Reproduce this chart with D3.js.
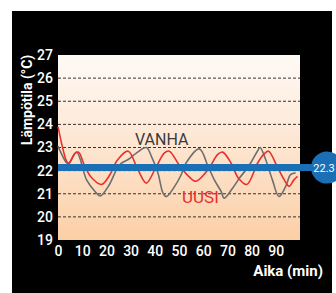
<!DOCTYPE html>
<html>
<head>
<meta charset="utf-8">
<script src="https://cdn.jsdelivr.net/npm/d3@7"></script>
<style>
  html, body { margin: 0; padding: 0; background: #fff; }
  svg { display: block; }
  .cond { font-family: "Roboto", "Liberation Sans", sans-serif; }
</style>
</head>
<body>
<div id="chart"></div>
<script>
(function() {
  // time in minutes, temperature in °C
  const uusiTime  = [0, 2, 3.6, 4.5, 7, 8.5, 11, 14, 18, 21.5, 24.5, 29, 33, 36.5, 40, 44, 46, 50, 54, 57, 62, 66, 68, 71.5, 74.5, 78, 82.5, 85, 87, 90.5, 93.5, 95.5, 97.5, 99];
  const uusiTemp  = [23.9, 22.95, 22.4, 22.33, 22.75, 22.8, 22.2, 21.68, 21.4, 21.83, 22.45, 22.84, 22.04, 21.46, 22.04, 22.77, 22.84, 22.25, 21.75, 21.54, 22.04, 22.7, 22.8, 22.33, 21.68, 21.4, 22.33, 22.7, 22.84, 22.19, 21.6, 21.32, 21.6, 21.75];
  const vanhaTime = [0, 3.6, 4.5, 7.7, 11.8, 15.3, 17.4, 20.8, 24.2, 26, 29, 32.5, 36.5, 38.6, 41.3, 43.4, 44.8, 48.2, 50.8, 52.9, 58.4, 62, 64.6, 67.4, 68.7, 72.2, 75, 77.7, 79.6, 82.4, 83.5, 85.8, 88.6, 91.3, 94.1, 96.1, 98.2];
  const vanhaTemp = [23.06, 22.33, 22.3, 22.8, 21.6, 21.1, 20.9, 21.32, 22.04, 22.3, 22.48, 22.77, 23.0, 22.62, 21.9, 21.03, 20.88, 21.32, 21.8, 22.33, 22.94, 22.19, 21.6, 21.1, 20.81, 21.25, 21.68, 22.04, 22.33, 22.84, 23.0, 22.48, 21.6, 20.88, 21.32, 21.83, 21.9];
  const yTicks = [19, 20, 21, 22, 23, 24, 25, 26, 27];
  const xTicks = [0, 10, 20, 30, 40, 50, 60, 70, 80, 90];
  const gridValues = [20, 21, 22, 23, 24, 25, 26];
  const setpointLevel = 22.13;
  const setpointLabel = "22.3";

  const W = 336, H = 293;
  const plot = { left: 58, right: 300, top: 55, bottom: 240 };

  const svg = d3.select("#chart").append("svg")
    .attr("width", W)
    .attr("height", H);

  // black panel
  svg.append("rect")
    .attr("x", 12).attr("y", 11)
    .attr("width", 320).attr("height", H - 11)
    .attr("fill", "#000");

  const x = d3.scaleLinear().domain([0, 100]).range([plot.left, plot.right]);
  const y = d3.scaleLinear().domain([19, 27]).range([plot.bottom, plot.top]);

  const grad = svg.append("defs").append("linearGradient")
    .attr("id", "bg").attr("x1", 0).attr("y1", 0).attr("x2", 0).attr("y2", 1);
  grad.append("stop").attr("offset", "0%").attr("stop-color", "#fffaf6");
  grad.append("stop").attr("offset", "50%").attr("stop-color", "#fde5d0");
  grad.append("stop").attr("offset", "100%").attr("stop-color", "#fbcfa6");

  svg.append("rect")
    .attr("x", plot.left).attr("y", plot.top)
    .attr("width", plot.right - plot.left).attr("height", plot.bottom - plot.top)
    .attr("fill", "url(#bg)");

  // dashed grid
  svg.append("g").selectAll("line")
    .data(gridValues)
    .join("line")
    .attr("x1", plot.left).attr("x2", plot.right)
    .attr("y1", d => y(d)).attr("y2", d => y(d))
    .attr("stroke", "#333")
    .attr("stroke-width", 1)
    .attr("stroke-dasharray", "3,2");

  // axes
  const yAxis = svg.append("g")
    .attr("transform", `translate(${plot.left},0)`)
    .call(d3.axisLeft(y).tickValues(yTicks).tickSize(0).tickPadding(5).tickFormat(d3.format("d")));
  const xAxis = svg.append("g")
    .attr("transform", `translate(0,${plot.bottom})`)
    .call(d3.axisBottom(x).tickValues(xTicks).tickSize(0).tickPadding(6).tickFormat(d3.format("d")));
  [yAxis, xAxis].forEach(a => {
    a.select(".domain").remove();
    a.selectAll("text")
      .attr("class", "cond")
      .attr("fill", "#fff")
      .style("font-size", "14px")
      .style("font-weight", "500");
  });

  const line = d3.line()
    .x(d => x(d[0]))
    .y(d => y(d[1]))
    .curve(d3.curveCatmullRom.alpha(0.5));

  const vanha = vanhaTime.map((t, i) => [t, vanhaTemp[i]]);
  const uusi = uusiTime.map((t, i) => [t, uusiTemp[i]]);

  svg.append("path")
    .datum(vanha)
    .attr("d", line)
    .attr("fill", "none")
    .attr("stroke", "#6e6e6e")
    .attr("stroke-width", 1.6);

  svg.append("path")
    .datum(uusi)
    .attr("d", line)
    .attr("fill", "none")
    .attr("stroke", "#e8302c")
    .attr("stroke-width", 1.6);

  // setpoint bar + bubble
  svg.append("line")
    .attr("x1", plot.left).attr("x2", 320)
    .attr("y1", y(setpointLevel)).attr("y2", y(setpointLevel))
    .attr("stroke", "#1b6fb4")
    .attr("stroke-width", 7);

  svg.append("circle")
    .attr("cx", 327).attr("cy", y(setpointLevel))
    .attr("r", 16)
    .attr("fill", "#1b6fb4");

  svg.append("text")
    .attr("class", "cond")
    .attr("x", 324).attr("y", y(setpointLevel) + 4)
    .attr("text-anchor", "middle")
    .attr("fill", "#fff")
    .style("font-size", "11px")
    .text(setpointLabel);

  // series labels
  svg.append("text")
    .attr("class", "cond")
    .attr("x", 135).attr("y", 145)
    .attr("fill", "#3a3a3a")
    .style("font-size", "16px")
    .text("VANHA");

  svg.append("text")
    .attr("class", "cond")
    .attr("x", 182).attr("y", 203)
    .attr("fill", "#e8302c")
    .style("font-size", "17px")
    .text("UUSI");

  // axis titles
  svg.append("text")
    .attr("class", "cond")
    .attr("transform", "translate(32,100) rotate(-90)")
    .attr("text-anchor", "middle")
    .attr("fill", "#fff")
    .style("font-size", "14px")
    .style("font-weight", "bold")
    .text("Lämpötila (°C)");

  svg.append("text")
    .attr("class", "cond")
    .attr("x", 323).attr("y", 276)
    .attr("text-anchor", "end")
    .attr("fill", "#fff")
    .style("font-size", "15px")
    .style("font-weight", "bold")
    .text("Aika (min)");
})();
</script>
</body>
</html>
